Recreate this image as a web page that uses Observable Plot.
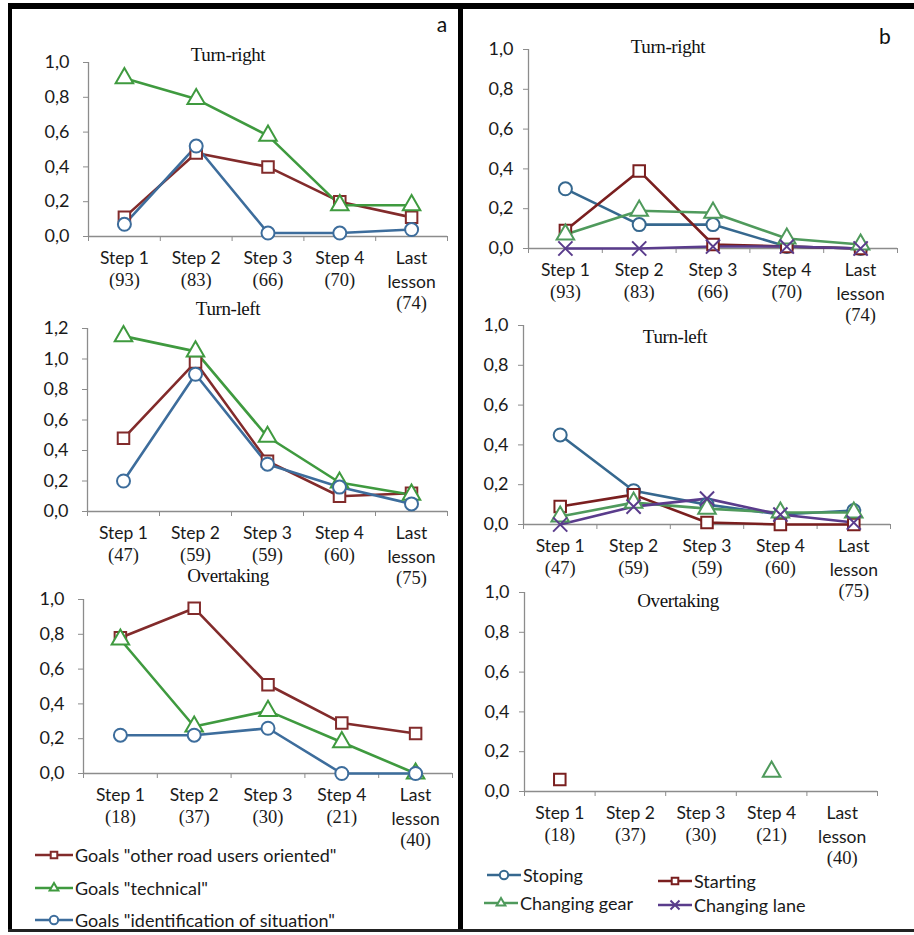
<!DOCTYPE html>
<html><head><meta charset="utf-8">
<script src="https://cdn.jsdelivr.net/npm/d3@7"></script>
<script src="https://cdn.jsdelivr.net/npm/@observablehq/plot@0.6"></script>
<style>
body{margin:0;background:#fff;}
#root{position:relative;width:914px;height:935px;overflow:hidden;background:#fff;font-family:Lato,sans-serif;}
.line{position:absolute;background:#000;}
.title{position:absolute;font-family:"Liberation Serif",serif;font-size:19px;color:#111;transform:translate(-50%,-50%);white-space:nowrap;letter-spacing:-0.4px;}
.tag{position:absolute;font-family:Lato,sans-serif;font-size:21px;color:#111;transform:translate(-50%,-50%);}
.leg{position:absolute;display:flex;align-items:center;transform:translateY(-50%);font-family:Lato,sans-serif;font-size:18px;color:#1a1a1a;white-space:nowrap;}
.leg svg{display:block;margin-right:2px;}
</style></head><body><div id="root"></div><script>
// ---------- data ----------
const steps = ["Step 1", "Step 2", "Step 3", "Step 4", "Last\nlesson"];
const countsTurnRight = [93, 83, 66, 70, 74];
const countsTurnLeft = [47, 59, 59, 60, 75];
const countsOvertaking = [18, 37, 30, 21, 40];
const yTicks10 = [0, 0.2, 0.4, 0.6, 0.8, 1.0];
const yTicks12 = [0, 0.2, 0.4, 0.6, 0.8, 1.0, 1.2];

// panel a: goals
const goalNames = ['Goals "other road users oriented"', 'Goals "technical"', 'Goals "identification of situation"'];
const aTurnRightOther = [0.11, 0.48, 0.40, 0.20, 0.11];
const aTurnRightTechnical = [0.91, 0.79, 0.58, 0.18, 0.18];
const aTurnRightIdent = [0.07, 0.52, 0.02, 0.02, 0.04];
const aTurnLeftOther = [0.48, 0.98, 0.33, 0.10, 0.12];
const aTurnLeftTechnical = [1.15, 1.05, 0.49, 0.19, 0.11];
const aTurnLeftIdent = [0.20, 0.90, 0.31, 0.16, 0.05];
const aOvertakingOther = [0.78, 0.95, 0.51, 0.29, 0.23];
const aOvertakingTechnical = [0.77, 0.27, 0.36, 0.18, 0.00];
const aOvertakingIdent = [0.22, 0.22, 0.26, 0.00, 0.00];

// panel b: manoeuvres
const manNames = ["Stoping", "Starting", "Changing gear", "Changing lane"];
const bTurnRightStoping = [0.30, 0.12, 0.12, 0.01, 0.00];
const bTurnRightStarting = [0.09, 0.39, 0.02, 0.01, 0.00];
const bTurnRightGear = [0.07, 0.19, 0.18, 0.05, 0.02];
const bTurnRightLane = [0.00, 0.00, 0.01, 0.01, 0.00];
const bTurnLeftStoping = [0.45, 0.17, 0.10, 0.05, 0.07];
const bTurnLeftStarting = [0.09, 0.15, 0.01, 0.00, 0.00];
const bTurnLeftGear = [0.04, 0.11, 0.08, 0.06, 0.06];
const bTurnLeftLane = [0.00, 0.09, 0.13, 0.05, 0.01];
const bOvertakingStoping = [null, null, null, null, null];
const bOvertakingStarting = [0.06, null, null, null, null];
const bOvertakingGear = [null, null, null, 0.10, null];
const bOvertakingLane = [null, null, null, null, null];

// ---------- styles ----------
const goalColors = ["#822b2b", "#3f9a3f", "#3d6d9c"];
const goalSymbols = ["square", "triangle", "circle"];
const manColors = ["#36688f", "#7a1f1f", "#4f9a5c", "#5a3c8c"];
const manSymbols = ["circle", "square", "triangle", "times"];
const axisGray = "#8c8c8c";
const textColor = "#1a1a1a";
const xDomain = [-0.5, 4.5];
const boundaries = d3.range(xDomain[0], xDomain[1] + 0.01, 1);
const fmt = d => d.toFixed(1).replace(".", ",");

const root = document.getElementById("root");

function chart(cfg) {
  const {names, colors, symbols, values, counts, yMax, yTicks, left, top, width,
         marginLeft, marginRight, plotHeight, tickPadding} = cfg;
  const data = [];
  names.forEach((name, k) => values[k].forEach((v, i) => data.push({name, i, v})));
  const cats = steps.map((label, i) => ({i, label, count: counts[i]}));
  const svg = Plot.plot({
    width, height: 20 + plotHeight + 80,
    marginTop: 20, marginBottom: 80, marginLeft, marginRight,
    style: {background: "transparent", overflow: "visible"},
    x: {domain: xDomain},
    y: {domain: [0, yMax]},
    color: {domain: names, range: colors},
    symbol: {domain: names, range: symbols},
    marks: [
      Plot.axisY({ticks: yTicks, tickSize: 5, tickPadding, tickFormat: fmt, label: null,
                  stroke: axisGray, fill: textColor, fontSize: 18, fontFamily: "Lato"}),
      Plot.axisX({ticks: boundaries, tickSize: 5, tickFormat: () => "", label: null, stroke: axisGray}),
      Plot.ruleX([xDomain[0]], {stroke: axisGray, strokeWidth: 1.3}),
      Plot.ruleY([0], {stroke: axisGray, strokeWidth: 1.3}),
      Plot.line(data, {x: "i", y: "v", z: "name", stroke: "name", strokeWidth: 2.6}),
      Plot.dot(data, {x: "i", y: "v", symbol: "name", stroke: "name", fill: "white", strokeWidth: 2, r: 6.5}),
      Plot.text(cats, {x: "i", y: d => 0, text: "label", lineAnchor: "top", dy: 11, lineHeight: 1.34,
                       fontSize: 17.5, fontFamily: "Lato", fill: textColor}),
      Plot.text(cats.filter(d => !d.label.includes("\n")), {x: "i", y: d => 0, text: d => `(${d.count})`,
                       dy: 44, fontSize: 18.5, fontFamily: "Liberation Serif", fill: textColor}),
      Plot.text(cats.filter(d => d.label.includes("\n")), {x: "i", y: d => 0, text: d => `(${d.count})`,
                       dy: 67, fontSize: 18.5, fontFamily: "Liberation Serif", fill: textColor})
    ]
  });
  svg.style.position = "absolute";
  svg.style.left = left + "px";
  svg.style.top = (top - 20) + "px";
  root.appendChild(svg);
}

// panel a charts
chart({names: goalNames, colors: goalColors, symbols: goalSymbols,
  values: [aTurnRightOther, aTurnRightTechnical, aTurnRightIdent], counts: countsTurnRight,
  yMax: 1.0, yTicks: yTicks10, left: 0, top: 62, width: 457, marginLeft: 88, marginRight: 10, plotHeight: 174, tickPadding: 14});
chart({names: goalNames, colors: goalColors, symbols: goalSymbols,
  values: [aTurnLeftOther, aTurnLeftTechnical, aTurnLeftIdent], counts: countsTurnLeft,
  yMax: 1.2, yTicks: yTicks12, left: 0, top: 328, width: 457, marginLeft: 87, marginRight: 10, plotHeight: 183, tickPadding: 14});
chart({names: goalNames, colors: goalColors, symbols: goalSymbols,
  values: [aOvertakingOther, aOvertakingTechnical, aOvertakingIdent], counts: countsOvertaking,
  yMax: 1.0, yTicks: yTicks10, left: 0, top: 599, width: 457, marginLeft: 83, marginRight: 5, plotHeight: 174, tickPadding: 14});
// panel b charts
chart({names: manNames, colors: manColors, symbols: manSymbols,
  values: [bTurnRightStoping, bTurnRightStarting, bTurnRightGear, bTurnRightLane], counts: countsTurnRight,
  yMax: 1.0, yTicks: yTicks10, left: 463, top: 49, width: 451, marginLeft: 65, marginRight: 17, plotHeight: 199, tickPadding: 10});
chart({names: manNames, colors: manColors, symbols: manSymbols,
  values: [bTurnLeftStoping, bTurnLeftStarting, bTurnLeftGear, bTurnLeftLane], counts: countsTurnLeft,
  yMax: 1.0, yTicks: yTicks10, left: 463, top: 325, width: 451, marginLeft: 60, marginRight: 24, plotHeight: 199, tickPadding: 10});
chart({names: manNames, colors: manColors, symbols: manSymbols,
  values: [bOvertakingStoping, bOvertakingStarting, bOvertakingGear, bOvertakingLane], counts: countsOvertaking,
  yMax: 1.0, yTicks: yTicks10, left: 463, top: 592, width: 451, marginLeft: 61, marginRight: 37, plotHeight: 199, tickPadding: 10});

// ---------- titles and tags ----------
function addText(cls, text, x, y) {
  const d = document.createElement("div");
  d.className = cls; d.textContent = text;
  d.style.left = x + "px"; d.style.top = y + "px";
  root.appendChild(d);
}
addText("title", "Turn-right", 228, 55);
addText("title", "Turn-left", 228, 309);
addText("title", "Overtaking", 228, 576);
addText("title", "Turn-right", 668, 47);
addText("title", "Turn-left", 675, 337);
addText("title", "Overtaking", 678, 601);
addText("tag", "a", 442, 23);
addText("tag", "b", 885, 35);

// ---------- legends ----------
const symbolTypes = {square: d3.symbolSquare2, triangle: d3.symbolTriangle2, circle: d3.symbolCircle, times: d3.symbolTimes};
function legendItem(x, y, w, name, color, sym) {
  const d = document.createElement("div");
  d.className = "leg";
  d.style.left = x + "px"; d.style.top = y + "px";
  const s = d3.create("svg").attr("width", w).attr("height", 16);
  s.append("line").attr("x1", 0).attr("x2", w).attr("y1", 8).attr("y2", 8).attr("stroke", color).attr("stroke-width", 2.6);
  s.append("path").attr("d", d3.symbol(symbolTypes[sym], 55)()).attr("transform", `translate(${w / 2},8)`)
    .attr("fill", "white").attr("stroke", color).attr("stroke-width", 2);
  d.appendChild(s.node());
  const t = document.createElement("span"); t.textContent = name;
  d.appendChild(t);
  root.appendChild(d);
}
const legA = [[35, 855], [35, 888], [35, 920]];
goalNames.forEach((n, k) => legendItem(legA[k][0], legA[k][1], 38, n, goalColors[k], goalSymbols[k]));
const legB = [[487, 875], [658, 881], [484, 903], [658, 905]];
manNames.forEach((n, k) => legendItem(legB[k][0], legB[k][1], 34, n, manColors[k], manSymbols[k]));

// ---------- frame ----------
function bar(x, y, w, h, c) {
  const d = document.createElement("div");
  d.className = "line";
  Object.assign(d.style, {left: x + "px", top: y + "px", width: w + "px", height: h + "px", background: c || "#000"});
  root.appendChild(d);
}
bar(8, 3, 906, 6);
bar(8, 3, 4, 929);
bar(458, 3, 5, 929);
bar(8, 929, 906, 3, "#222");
</script></body></html>
